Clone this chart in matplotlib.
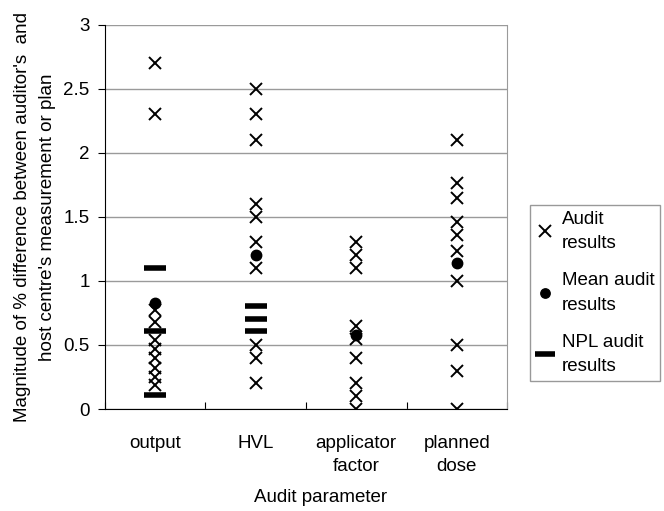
import matplotlib

matplotlib.use("Agg")
import matplotlib.pyplot as plt

plt.rcParams["font.family"] = ["Liberation Sans", "DejaVu Sans"]

categories = ["output", "HVL", "applicator\nfactor", "planned\ndose"]

audit_output = [2.7, 2.3, 0.77, 0.68, 0.54, 0.47, 0.4, 0.32, 0.25, 0.19]
audit_hvl = [2.5, 2.3, 2.1, 1.6, 1.5, 1.3, 1.1, 0.5, 0.4, 0.2]
audit_applicator = [1.3, 1.2, 1.1, 0.65, 0.55, 0.4, 0.2, 0.1, 0.0]
audit_planned = [2.1, 1.76, 1.65, 1.46, 1.36, 1.23, 1.0, 0.5, 0.3, 0.0]
audit_results = [audit_output, audit_hvl, audit_applicator, audit_planned]

mean_results = [0.83, 1.2, 0.58, 1.14]

npl_output = [1.1, 0.61, 0.11]
npl_hvl = [0.8, 0.7, 0.61]
npl_results = [npl_output, npl_hvl, [], []]

fs = 13.5

fig = plt.figure(figsize=(6.64, 5.11), dpi=100)
ax = fig.add_axes([0.158, 0.1996, 0.6056, 0.7524])

for i, vals in enumerate(audit_results):
    ax.plot([i + 1] * len(vals), vals, linestyle="none", marker="x",
            markersize=9, markeredgewidth=1.4, color="black",
            label="Audit\nresults" if i == 0 else None, zorder=3)
ax.plot(range(1, len(mean_results) + 1), mean_results, linestyle="none",
        marker="o", markersize=7.5, color="black",
        label="Mean audit\nresults", zorder=4)
for i, vals in enumerate(npl_results):
    if vals:
        ax.plot([i + 1] * len(vals), vals, linestyle="none", marker="_",
                markersize=16, markeredgewidth=4, color="black",
                label="NPL audit\nresults" if i == 0 else None, zorder=4)

ax.set_xlim(0.5, 4.5)
ax.set_ylim(0, 3)
ax.set_yticks([0, 0.5, 1, 1.5, 2, 2.5, 3])
ax.set_yticklabels(["0", "0.5", "1", "1.5", "2", "2.5", "3"])
ax.set_xticks([0.5, 1.5, 2.5, 3.5, 4.5])
ax.set_xticklabels([])
ax.set_xticks([1, 2, 3, 4], minor=True)
ax.set_xticklabels(categories, minor=True)
for t in ax.get_xminorticklabels():
    t.set_linespacing(1.45)
ax.tick_params(axis="x", which="major", direction="in", length=5, color="black")
ax.tick_params(axis="x", which="minor", length=0, pad=19, labelsize=fs)
ax.tick_params(axis="y", direction="out", length=5, labelsize=fs, pad=6)
ax.grid(True, axis="y", color="#9a9a9a", linewidth=1)
ax.set_axisbelow(True)

ax.spines["top"].set_visible(False)
ax.spines["right"].set_color("#9a9a9a")
ax.spines["left"].set_color("black")
ax.spines["bottom"].set_color("black")

ax.set_ylabel("Magnitude of % difference between auditor's  and\nhost centre's measurement or plan",
              fontsize=fs, linespacing=1.65, labelpad=5)
fig.text(321 / 664, 1 - 497 / 511, "Audit parameter", fontsize=fs,
         ha="center", va="center")

leg = fig.legend(loc="center left", bbox_to_anchor=(530 / 664, (511 - 293) / 511),
                 fontsize=13.5, frameon=True, fancybox=False, edgecolor="#808080",
                 handlelength=1.0, handletextpad=0.4, labelspacing=1.05,
                 borderpad=0.3, borderaxespad=0, markerscale=0.9)
for t in leg.get_texts():
    t.set_linespacing(1.6)
leg.get_frame().set_linewidth(1)

fig.savefig("out.png", dpi=100)
plt.close(fig)
